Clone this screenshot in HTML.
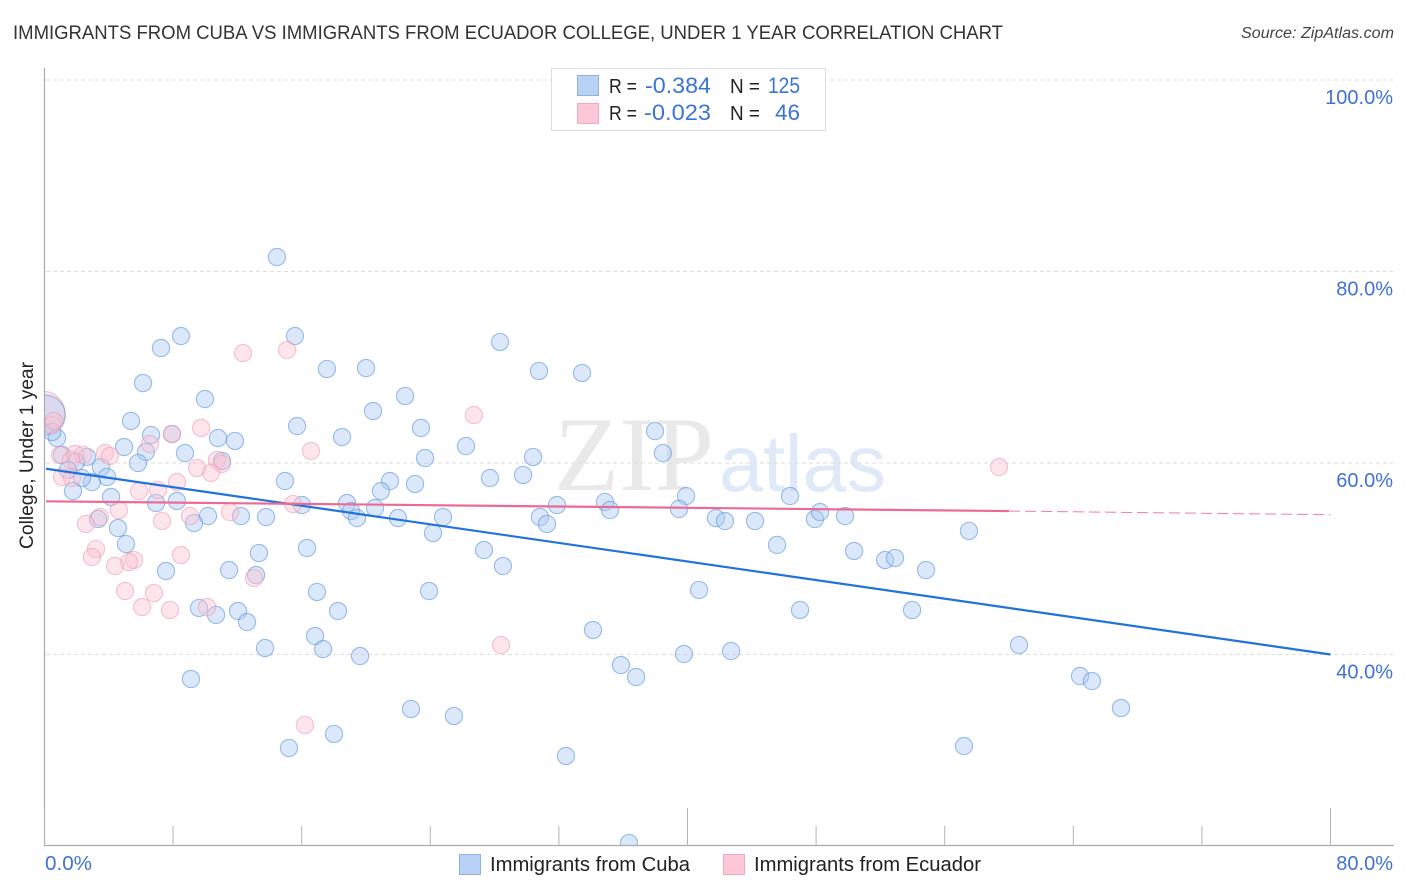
<!DOCTYPE html>
<html>
<head>
<meta charset="utf-8">
<title>Immigrants from Cuba vs Immigrants from Ecuador College, Under 1 Year Correlation Chart</title>
<style>
html,body{margin:0;padding:0;background:#fff;}
svg{display:block;font-family:"Liberation Sans",sans-serif;}
</style>
</head>
<body>
<svg id="chart" width="1406" height="892" viewBox="0 0 1406 892" xmlns="http://www.w3.org/2000/svg">
  <defs>
    <clipPath id="plot-clip"><rect x="45" y="60" width="1350" height="785.5"/></clipPath>
  </defs>
  <text x="13" y="39" font-size="19.5" fill="#333" textLength="990" lengthAdjust="spacingAndGlyphs">IMMIGRANTS FROM CUBA VS IMMIGRANTS FROM ECUADOR COLLEGE, UNDER 1 YEAR CORRELATION CHART</text>
  <text x="1241" y="38" font-size="15.5" font-style="italic" fill="#444" textLength="153" lengthAdjust="spacingAndGlyphs">Source: ZipAtlas.com</text>

  <g>
    <text x="554" y="490" font-family="'Liberation Serif',serif" font-size="106" fill="#e9e9e9" textLength="160" lengthAdjust="spacingAndGlyphs">ZIP</text>
    <text x="719" y="491" font-size="80" fill="#dfe9f8" textLength="167" lengthAdjust="spacingAndGlyphs">atlas</text>
  </g>

  <g id="grid"></g>
  <g id="points" clip-path="url(#plot-clip)"></g>
  <g id="trends"></g>
  <g id="axes"></g>

  <text transform="translate(33,549) rotate(-90)" font-size="19" fill="#222" textLength="187" lengthAdjust="spacingAndGlyphs">College, Under 1 year</text>

  <g>
    <rect x="551.5" y="68.5" width="274" height="62" fill="#fff" stroke="#ddd" stroke-width="1"/>
    <rect x="577.5" y="75.5" width="21" height="20" fill="#b7d2f5" stroke="#8fb2e0" stroke-width="1"/>
    <rect x="577.5" y="103.5" width="21" height="20" fill="#fcc8d8" stroke="#eeaabf" stroke-width="1"/>
    <text x="609" y="93" font-size="20" fill="#222" textLength="28" lengthAdjust="spacingAndGlyphs">R =</text>
    <text x="645" y="93" font-size="22" fill="#3a75d4" textLength="66" lengthAdjust="spacingAndGlyphs">-0.384</text>
    <text x="730" y="93" font-size="20" fill="#222" textLength="30" lengthAdjust="spacingAndGlyphs">N =</text>
    <text x="768" y="93" font-size="22" fill="#3a75d4" textLength="32" lengthAdjust="spacingAndGlyphs">125</text>
    <text x="609" y="120" font-size="20" fill="#222" textLength="28" lengthAdjust="spacingAndGlyphs">R =</text>
    <text x="644" y="120" font-size="22" fill="#3a75d4" textLength="67" lengthAdjust="spacingAndGlyphs">-0.023</text>
    <text x="730" y="120" font-size="20" fill="#222" textLength="30" lengthAdjust="spacingAndGlyphs">N =</text>
    <text x="775" y="120" font-size="22" fill="#3a75d4" textLength="25" lengthAdjust="spacingAndGlyphs">46</text>
  </g>

  <g>
    <rect x="459.5" y="854.5" width="21" height="20" fill="#b7d2f5" stroke="#8fb2e0" stroke-width="1"/>
    <text x="490" y="871" font-size="20" fill="#222" textLength="200" lengthAdjust="spacingAndGlyphs">Immigrants from Cuba</text>
    <rect x="723.5" y="854.5" width="21" height="20" fill="#fcc8d8" stroke="#eeaabf" stroke-width="1"/>
    <text x="754" y="871" font-size="20" fill="#222" textLength="227" lengthAdjust="spacingAndGlyphs">Immigrants from Ecuador</text>
  </g>
</svg>
<script>
var cubaX = [14.46,7.25,8.49,15.58,6.13,9.98,17.57,20.0,22.43,28.34,30.76,33.44,20.44,5.38,15.71,23.42,18.51,6.63,7.93,10.79,11.85,4.95,6.31,8.74,26.22,30.39,37.98,38.47,0.78,0.47,1.09,2.64,1.96,1.46,3.51,11.04,5.82,3.89,2.95,2.33,1.77,4.14,14.96,23.67,27.71,29.77,23.05,21.49,20.93,39.91,46.38,34.87,35.18,31.88,39.47,18.82,19.07,20.56,16.02,8.24,6.94,10.17,12.22,13.78,3.33,9.3,4.57,19.44,21.99,24.79,30.82,31.26,41.77,42.33,44.2,47.93,48.24,49.8,24.17,57.51,5.07,13.34,16.33,27.34,45.57,50.36,52.29,52.91,7.56,11.48,13.16,28.52,54.84,16.95,23.92,40.72,9.61,10.67,12.04,18.26,12.6,47.0,53.97,34.12,16.83,13.72,17.33,19.63,39.78,42.71,60.62,35.86,36.8,64.42,65.16,9.11,22.8,25.47,66.97,18.01,15.21,57.2,32.44,36.36];
var cubaY = [81.51,72.01,73.26,73.26,68.35,66.68,69.82,69.92,67.0,72.64,69.61,69.4,65.43,64.39,63.86,63.66,62.71,62.92,63.03,62.61,62.3,61.67,61.15,61.04,61.77,60.63,63.34,61.04,62.61,63.24,60.84,60.63,60.1,59.27,59.58,60.21,60.0,58.54,58.01,58.43,57.07,56.45,58.12,60.52,58.43,58.75,57.81,58.12,57.07,56.55,56.55,55.93,55.09,55.61,55.2,55.82,54.99,55.3,55.61,56.03,55.82,54.46,54.46,54.36,54.15,53.73,53.21,54.25,54.25,54.36,54.36,53.63,54.25,53.94,53.94,54.15,54.88,54.46,52.69,52.9,51.54,50.6,51.12,50.91,51.44,50.81,49.87,50.08,48.72,48.82,48.3,49.24,48.82,46.53,46.63,46.74,44.86,44.13,44.54,44.54,43.39,44.65,44.65,42.56,41.93,40.68,40.57,39.84,40.05,40.36,40.99,38.9,37.65,37.75,37.23,37.44,34.31,33.58,34.41,31.7,30.23,30.44,29.4,20.31];
var ecuadorX = [0.47,0.59,0.96,1.9,2.39,3.76,4.07,1.65,1.09,1.71,6.56,7.93,9.74,10.73,11.04,9.49,10.36,8.24,5.88,7.06,4.63,3.45,2.58,7.31,9.05,11.54,15.46,16.58,3.2,2.95,5.57,5.26,4.39,8.49,5.01,6.81,6.07,7.81,10.11,13.03,12.35,15.09,26.71,59.38,28.4,16.2];
var ecuadorY = [63.97,64.39,60.84,60.94,60.84,61.04,60.73,60.31,58.54,58.43,61.98,63.03,63.66,60.31,59.9,59.48,58.96,58.01,57.07,57.18,55.09,54.36,53.63,53.94,54.46,54.88,55.72,61.25,51.02,50.18,49.87,49.66,49.24,50.39,46.63,46.42,44.96,44.65,44.96,47.99,71.49,71.8,65.01,59.58,40.99,32.64];
var cubaLargeX = [0.05];
var cubaLargeY = [65.0];
var ecuadorLargeX = [-0.1];
var ecuadorLargeY = [65.2];
var cubaTrendX = [0, 80];
var cubaTrendY = [59.4, 40.0];
var ecuadorTrendX = [0, 60, 80];
var ecuadorTrendY = [56.0, 54.98, 54.6];
var yTicks = [100, 80, 60, 40];
var yTickLabels = ["100.0%", "80.0%", "60.0%", "40.0%"];
var xTicks = [0, 8, 16, 24, 32, 40, 48, 56, 64, 72, 80];
var xMajorTicks = [0, 40, 80];
var xEndLabels = ["0.0%", "80.0%"];

var NS = "http://www.w3.org/2000/svg";
function sx(v){ return 44.5 + v * 16.075; }
function sy(v){ return 80 + (100 - v) * 9.575; }
function mk(parent, tag, attrs, text){
  var el = document.createElementNS(NS, tag);
  for (var k in attrs) el.setAttribute(k, attrs[k]);
  if (text !== undefined) el.textContent = text;
  parent.appendChild(el);
  return el;
}
var gridG = document.getElementById("grid");
var axesG = document.getElementById("axes");
var pointsG = document.getElementById("points");
var trendsG = document.getElementById("trends");

yTicks.forEach(function(t, i){
  var ln = mk(gridG, "line", {x1:46, x2:1393, y1:sy(t), y2:sy(t), stroke:"#dedede", "stroke-width":1, "stroke-dasharray":"4 3"});
  
  
  var lb = mk(axesG, "text", {x:1393, y:sy(t)+24, "font-size":20, fill:"#3f72d4", "text-anchor":"end"}, yTickLabels[i]);
  
  
});

var yAxis = mk(axesG, "line", {x1:44.5, x2:44.5, y1:68, y2:846, stroke:"#aaa", "stroke-width":1.2});


var xAxis = mk(axesG, "line", {x1:44, x2:1394, y1:845.5, y2:845.5, stroke:"#aaa", "stroke-width":1.2});



xTicks.forEach(function(t){
  var major = xMajorTicks.indexOf(t) >= 0;
  var tk = mk(axesG, "line", {x1:sx(t), x2:sx(t), y1:major ? 808 : 826, y2:846, stroke:"#b5b5b5", "stroke-width":1});
  
  
});

var xLabelLeft = mk(axesG, "text", {x:45, y:870, "font-size":20, fill:"#3f72d4", textLength:47, lengthAdjust:"spacingAndGlyphs"}, xEndLabels[0]);


var xLabelRight = mk(axesG, "text", {x:1393, y:870, "font-size":20, fill:"#3f72d4", "text-anchor":"end"}, xEndLabels[1]);



function drawPoint(x, y, r, fill, stroke){
  var c = mk(pointsG, "circle", {cx:sx(x), cy:sy(y), r:r, fill:fill, "fill-opacity":0.42, stroke:stroke, "stroke-opacity":0.6, "stroke-width":1.1});
  return c;
}
var BLUE_FILL = "#a9c9f3", BLUE_STROKE = "#5b93dc", PINK_FILL = "#fbc0d2", PINK_STROKE = "#ee9db6";

ecuadorLargeX.forEach(function(x, i){
  var c = drawPoint(x, ecuadorLargeY[i], 22, PINK_FILL, PINK_STROKE);
  
  
});
cubaLargeX.forEach(function(x, i){
  var c = drawPoint(x, cubaLargeY[i], 20, BLUE_FILL, BLUE_STROKE);
  
  
});
cubaX.forEach(function(x, i){
  var c = drawPoint(x, cubaY[i], 8.6, BLUE_FILL, BLUE_STROKE);
  
  
});
ecuadorX.forEach(function(x, i){
  var c = drawPoint(x, ecuadorY[i], 8.6, PINK_FILL, PINK_STROKE);
  
  
});

var cubaLine = mk(trendsG, "line", {x1:Math.max(sx(cubaTrendX[0]),46), y1:sy(cubaTrendY[0]), x2:sx(cubaTrendX[1]), y2:sy(cubaTrendY[1]), stroke:"#2272dc", "stroke-width":2.2});


var ecuadorLine = mk(trendsG, "line", {x1:Math.max(sx(ecuadorTrendX[0]),46), y1:sy(ecuadorTrendY[0]), x2:sx(ecuadorTrendX[1]), y2:sy(ecuadorTrendY[1]), stroke:"#ec6a94", "stroke-width":2.2});


var ecuadorDash = mk(trendsG, "line", {x1:sx(ecuadorTrendX[1]), y1:sy(ecuadorTrendY[1]), x2:sx(ecuadorTrendX[2]), y2:sy(ecuadorTrendY[2]), stroke:"#ec7fa2", "stroke-width":1, "stroke-dasharray":"11 5"});


</script>
</body>
</html>
